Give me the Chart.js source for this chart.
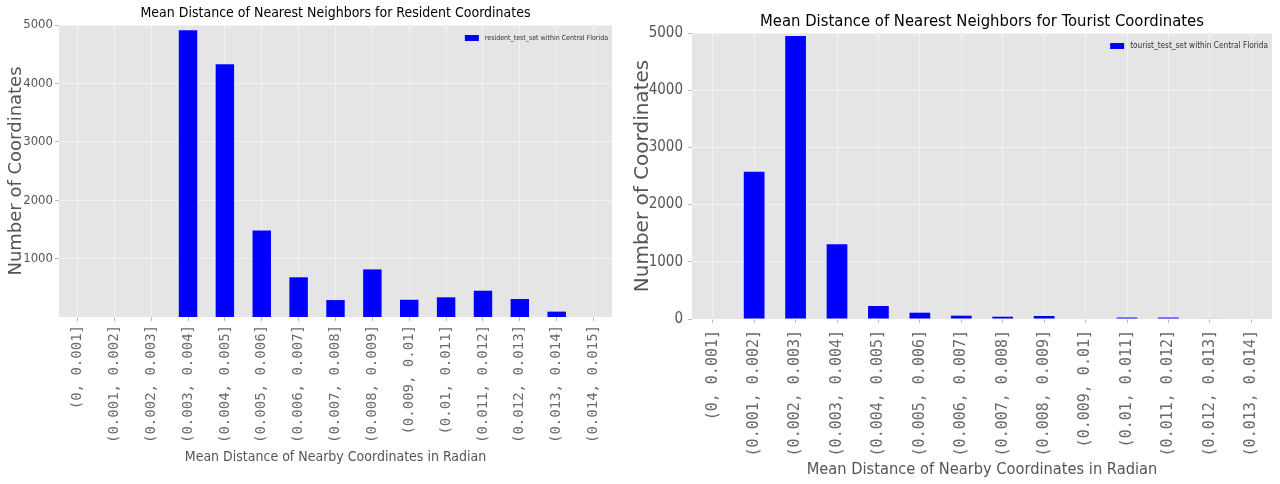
<!DOCTYPE html>
<html>
<head>
<meta charset="utf-8">
<script src="https://cdn.jsdelivr.net/npm/chart.js@4.4.1/dist/chart.umd.min.js"></script>
<style>
  html, body { margin: 0; padding: 0; background: #ffffff; }
  body { width: 1280px; height: 484px; position: relative; overflow: hidden; }
  canvas { position: absolute; top: 0; }
  #left { left: 0; }
  #right { left: 625px; }
</style>
</head>
<body>
<canvas id="left" width="625" height="484"></canvas>
<canvas id="right" width="655" height="484"></canvas>
<script>
// ---------- DATA ----------
const residentCategories = ['(0, 0.001]', '(0.001, 0.002]', '(0.002, 0.003]', '(0.003, 0.004]', '(0.004, 0.005]',
  '(0.005, 0.006]', '(0.006, 0.007]', '(0.007, 0.008]', '(0.008, 0.009]', '(0.009, 0.01]',
  '(0.01, 0.011]', '(0.011, 0.012]', '(0.012, 0.013]', '(0.013, 0.014]', '(0.014, 0.015]'];
const residentValues = [0, 0, 0, 4910, 4330, 1480, 680, 290, 815, 295, 337, 450, 308, 92, 0];
const residentYTicks = [1000, 2000, 3000, 4000, 5000];

const touristCategories = ['(0, 0.001]', '(0.001, 0.002]', '(0.002, 0.003]', '(0.003, 0.004]', '(0.004, 0.005]',
  '(0.005, 0.006]', '(0.006, 0.007]', '(0.007, 0.008]', '(0.008, 0.009]', '(0.009, 0.01]',
  '(0.01, 0.011]', '(0.011, 0.012]', '(0.012, 0.013]', '(0.013, 0.014]'];
const touristValues = [0, 2575, 4948, 1306, 227, 110, 58, 40, 52, 0, 25, 25, 8, 0];
const touristYTicks = [0, 1000, 2000, 3000, 4000, 5000];

const residentTitle = 'Mean Distance of Nearest Neighbors for Resident Coordinates';
const touristTitle = 'Mean Distance of Nearest Neighbors for Tourist Coordinates';
const residentLegend = 'resident_test_set within Central Florida';
const touristLegend = 'tourist_test_set within Central Florida';
const xTitle = 'Mean Distance of Nearby Coordinates in Radian';
const yTitle = 'Number of Coordinates';

// ---------- STYLE ----------
const NARROW = "'Liberation Sans Narrow', 'DejaVu Sans Condensed', 'Roboto Condensed', sans-serif";
const DEJAVU = "'DejaVu Sans', sans-serif";
const MONO = "'DejaVu Sans Mono', 'Liberation Mono', monospace";

const plotBg = {
  id: 'plotBg',
  beforeDraw(chart) {
    const { ctx, chartArea: a } = chart;
    ctx.save();
    ctx.fillStyle = '#E5E5E5';
    ctx.fillRect(a.left, a.top, a.right - a.left, a.bottom - a.top);
    ctx.restore();
  }
};

// legend drawn inside the plot, top-right, from the dataset's own label/colour
const insideLegend = {
  id: 'insideLegend',
  afterDatasetsDraw(chart, args, opts) {
    const { ctx, chartArea: a } = chart;
    const ds = chart.data.datasets[0];
    ctx.save();
    ctx.font = opts.size + 'px ' + NARROW;
    ctx.textBaseline = 'middle';
    ctx.textAlign = 'left';
    const tw = ctx.measureText(ds.label).width;
    const textX = a.right - opts.pad - tw;
    const cy = a.top + opts.top + opts.boxH / 2;
    ctx.fillStyle = ds.backgroundColor;
    ctx.fillRect(textX - opts.gap - opts.boxW, a.top + opts.top, opts.boxW, opts.boxH);
    ctx.fillStyle = '#333333';
    ctx.fillText(ds.label, textX, cy);
    ctx.restore();
  }
};

function makeChart(id, cfg) {
  return new Chart(document.getElementById(id), {
    type: 'bar',
    data: {
      labels: cfg.categories,
      datasets: [{
        label: cfg.legend,
        data: cfg.values,
        backgroundColor: '#0000FF',
        borderWidth: 0,
        barPercentage: 0.5,
        categoryPercentage: 1.0
      }]
    },
    options: {
      responsive: false,
      animation: false,
      devicePixelRatio: 1,
      layout: { padding: { left: 0, right: cfg.padRight, top: 0, bottom: 0 } },
      plugins: {
        title: {
          display: true,
          text: cfg.title,
          fullSize: false,
          color: '#000000',
          font: { family: NARROW, size: cfg.titleSize, weight: 'normal', lineHeight: 1 },
          padding: { top: cfg.titlePadTop, bottom: cfg.titlePadBottom }
        },
        legend: { display: false },
        insideLegend: { size: cfg.legendSize, pad: 4, top: 10, boxW: 14, boxH: 6, gap: 6 },
        tooltip: { enabled: false }
      },
      scales: {
        x: {
          offset: true,
          border: { display: false },
          grid: { color: 'rgba(255,255,255,0.5)', lineWidth: 1, offset: false, tickLength: 4, tickColor: '#bbbbbb' },
          ticks: {
            autoSkip: false, minRotation: 90, maxRotation: 90,
            color: '#6a6a6a', padding: cfg.xTickPad,
            font: { family: MONO, size: cfg.xTickSize }
          },
          title: {
            display: true, text: xTitle, color: '#555555',
            font: { family: NARROW, size: cfg.xTitleSize },
            padding: { top: 0, bottom: cfg.xTitlePadBottom }
          },
          afterFit(scale) { scale.height = cfg.xHeight; }
        },
        y: {
          min: 0, max: 5000,
          border: { display: false },
          grid: { color: 'rgba(255,255,255,0.5)', lineWidth: 1, tickLength: 4, tickColor: '#bbbbbb' },
          afterBuildTicks(scale) { scale.ticks = cfg.yTicks.map(v => ({ value: v })); },
          ticks: {
            color: '#555555', padding: cfg.yTickPad,
            font: { family: NARROW, size: cfg.yTickSize },
            callback: (v) => String(v)
          },
          title: {
            display: true, text: yTitle, color: '#555555',
            font: { family: DEJAVU, size: cfg.yTitleSize },
            padding: { top: 6, bottom: 0 }
          },
          afterFit(scale) { scale.width = cfg.yWidth; }
        }
      }
    },
    plugins: [plotBg, insideLegend]
  });
}

makeChart('left', {
  categories: residentCategories, values: residentValues, yTicks: residentYTicks,
  title: residentTitle, legend: residentLegend,
  padRight: 13, titleSize: 14, titlePadTop: 6, titlePadBottom: 5,
  legendSize: 7,
  xTickPad: 4, xTickSize: 14, xTitleSize: 14, xTitlePadBottom: 18.6, xHeight: 167,
  yTickPad: 2, yTickSize: 13, yTitleSize: 18, yWidth: 59
});

makeChart('right', {
  categories: touristCategories, values: touristValues, yTicks: touristYTicks,
  title: touristTitle, legend: touristLegend,
  padRight: 8, titleSize: 16.5, titlePadTop: 13.75, titlePadBottom: 2.75,
  legendSize: 8.2,
  xTickPad: 7, xTickSize: 15, xTitleSize: 16.3, xTitlePadBottom: 4.2, xHeight: 165,
  yTickPad: 5, yTickSize: 15, yTitleSize: 20, yWidth: 67
});
</script>
</body>
</html>
